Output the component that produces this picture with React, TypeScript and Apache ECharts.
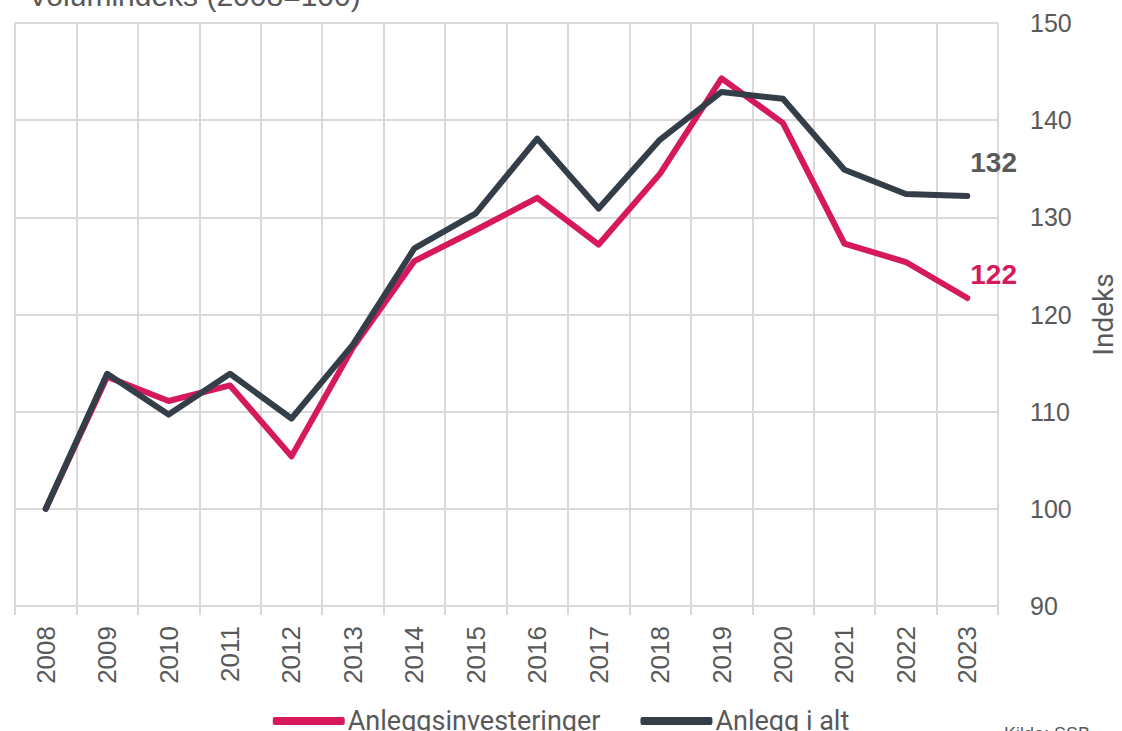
import React, { useEffect, useRef } from "react";
import * as echarts from "echarts";

const years = ["2008","2009","2010","2011","2012","2013","2014","2015","2016","2017","2018","2019","2020","2021","2022","2023"];
const anleggsinvesteringer = [100, 113.6, 111.1, 112.7, 105.4, 116.6, 125.5, 128.7, 132.0, 127.2, 134.5, 144.3, 139.7, 127.3, 125.4, 121.7];
const anleggIAlt = [100, 113.9, 109.7, 113.9, 109.3, 116.9, 126.8, 130.4, 138.1, 130.9, 138.0, 142.9, 142.2, 134.9, 132.4, 132.2];
const yTicks = { min: 90, max: 150, interval: 10 };

const PINK = "#d6195c";
const DARK = "#333e48";
const GRAY = "#595959";
const GRID = "#d9d9d9";
const SANS = "'Liberation Sans', Arial, sans-serif";
const NARROW = "Roboto, sans-serif";

function endLabel(color: string, offset: [number, number]) {
  return {
    show: true,
    offset,
    formatter: (p: any) => String(Math.round(Array.isArray(p.value) ? p.value[1] : p.value)),
    color,
    fontSize: 28,
    fontWeight: "bold",
    fontFamily: SANS,
  };
}

export default function App() {
  const ref = useRef<HTMLDivElement>(null);
  useEffect(() => {
    const chart = echarts.init(ref.current!, null, { renderer: "svg" });
    chart.setOption({
      animation: false,
      backgroundColor: "#ffffff",
      grid: { left: 15, right: 124, top: 23, bottom: 125, outerBoundsMode: "none", containLabel: false },
      graphic: [
        {
          type: "text",
          x: 28,
          y: 10,
          style: {
            text: "Volumindeks (2008=100)",
            fontSize: 30,
            fill: GRAY,
            textVerticalAlign: "bottom",
            fontFamily: SANS,
          },
        },
        {
          type: "text",
          x: 1004,
          y: 725,
          style: {
            text: "Kilde: SSB",
            fontSize: 18,
            fill: GRAY,
            textVerticalAlign: "top",
            fontFamily: SANS,
          },
        },
      ],
      legend: {
        top: 700,
        left: "center",
        itemGap: 40,
        itemWidth: 72,
        itemHeight: 8,
        icon: "roundRect",
        textStyle: { fontSize: 27, lineHeight: 32, color: GRAY, fontFamily: NARROW, padding: [0, 0, 0, -2] },
        data: ["Anleggsinvesteringer", "Anlegg i alt"],
      },
      xAxis: {
        type: "category",
        data: years,
        boundaryGap: true,
        axisLine: { show: true, lineStyle: { color: GRID, width: 2 } },
        axisTick: { show: true, length: 9, lineStyle: { color: GRID, width: 2 } },
        splitLine: { show: true, lineStyle: { color: GRID, width: 2 } },
        axisLabel: {
          rotate: 90,
          margin: 20,
          fontSize: 26,
          color: GRAY,
          fontFamily: SANS,
        },
      },
      yAxis: {
        type: "value",
        position: "right",
        min: yTicks.min,
        max: yTicks.max,
        interval: yTicks.interval,
        name: "Indeks",
        nameLocation: "middle",
        nameRotate: 90,
        nameGap: 91,
        nameTextStyle: { fontSize: 28, color: GRAY, fontFamily: NARROW },
        axisLine: { show: false },
        axisTick: { show: false },
        splitLine: { show: true, lineStyle: { color: GRID, width: 2 } },
        axisLabel: {
          margin: 32,
          fontSize: 25,
          color: GRAY,
          fontFamily: SANS,
        },
      },
      series: [
        {
          name: "Anleggsinvesteringer",
          type: "line",
          data: anleggsinvesteringer,
          symbol: "none",
          color: PINK,
          lineStyle: { width: 6, color: PINK, cap: "round", join: "round" },
          endLabel: endLabel(PINK, [-5, -23]),
        },
        {
          name: "Anlegg i alt",
          type: "line",
          data: anleggIAlt,
          symbol: "none",
          color: DARK,
          lineStyle: { width: 6, color: DARK, cap: "round", join: "round" },
          endLabel: endLabel(GRAY, [-5, -33]),
        },
      ],
    });
    return () => chart.dispose();
  }, []);
  return (
    <div
      ref={ref}
      style={{ position: "absolute", left: 0, top: 0, width: 1122, height: 731 }}
    />
  );
}
